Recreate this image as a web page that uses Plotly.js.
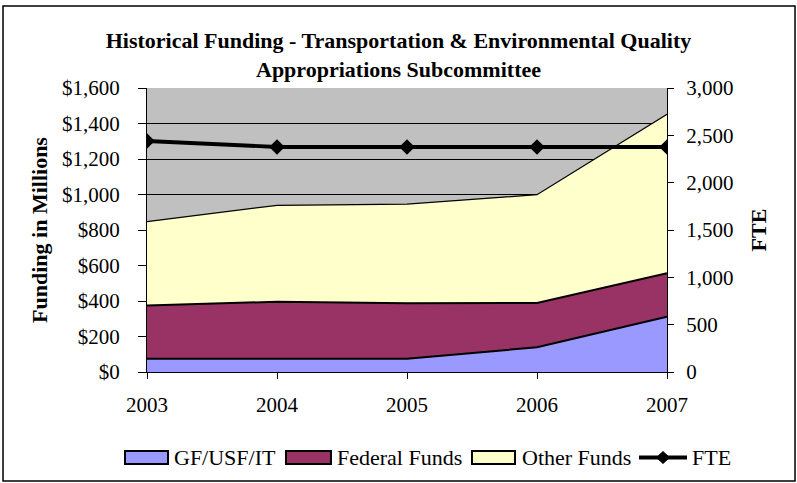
<!DOCTYPE html>
<html><head><meta charset="utf-8">
<script src="https://cdn.plot.ly/plotly-3.0.1.min.js"></script>
<style>html,body{margin:0;padding:0;background:#fff}</style>
</head><body>
<div id="chart" style="width:797px;height:483px"></div>
<script>
var years = [2003, 2004, 2005, 2006, 2007];
var gfUsfIt = [75, 75, 75, 139, 312];
var federalFunds = [299, 321, 312, 250, 244];
var otherFunds = [473, 543, 559, 610, 896];
var fte = [2440, 2377, 2377, 2377, 2377];
var seriesNames = ['GF/USF/IT', 'Federal Funds', 'Other Funds', 'FTE'];
var leftTicks = [0, 200, 400, 600, 800, 1000, 1200, 1400, 1600];
var leftTickText = ['$0', '$200', '$400', '$600', '$800', '$1,000', '$1,200', '$1,400', '$1,600'];
var rightTicks = [0, 500, 1000, 1500, 2000, 2500, 3000];
var rightTickText = ['0', '500', '1,000', '1,500', '2,000', '2,500', '3,000'];

var F = 'Liberation Serif, Times New Roman, serif';
var colors = ['#9999FF', '#993366', '#FFFFCC'];
var traces = [
  {x: years, y: gfUsfIt, name: seriesNames[0], type: 'scatter', mode: 'lines', stackgroup: 'a',
   fillcolor: colors[0], line: {color: '#000', width: 2}},
  {x: years, y: federalFunds, name: seriesNames[1], type: 'scatter', mode: 'lines', stackgroup: 'a',
   fillcolor: colors[1], line: {color: '#000', width: 2}},
  {x: years, y: otherFunds, name: seriesNames[2], type: 'scatter', mode: 'lines', stackgroup: 'a',
   fillcolor: colors[2], line: {color: '#000', width: 1.3}},
  {x: years, y: fte, name: seriesNames[3], type: 'scatter', mode: 'lines+markers', yaxis: 'y2',
   line: {color: '#000', width: 3.8}, marker: {symbol: 'diamond', size: 12, color: '#000'}}
];

// manual legend (positions in paper coordinates)
var legRects = [[-0.0423, 0.0404], [0.2673, 0.3538], [0.625, 0.7077]];
var legTextX = [0.0481, 0.3615, 0.7173, 1.0442];
var legY0 = -0.3239, legY1 = -0.2782, legYc = -0.3011;
var shapes = [{type: 'rect', xref: 'paper', yref: 'paper', x0: -0.2769, x1: 1.2462, y0: -0.384, y1: 1.289,
  line: {color: '#000', width: 1.5}, fillcolor: 'rgba(0,0,0,0)', layer: 'below'}];
var annotations = [];
for (var i = 0; i < 3; i++) {
  shapes.push({type: 'rect', xref: 'paper', yref: 'paper', x0: legRects[i][0], x1: legRects[i][1],
    y0: legY0, y1: legY1, fillcolor: colors[i], line: {color: '#000', width: 2}});
}
shapes.push({type: 'line', xref: 'paper', yref: 'paper', x0: 0.9462, x1: 1.0385, y0: legYc, y1: legYc,
  line: {color: '#000', width: 3.8}});
shapes.push({type: 'path', xref: 'paper', yref: 'paper', xsizemode: 'pixel', ysizemode: 'pixel',
  xanchor: 0.9923, yanchor: legYc, path: 'M-6.5,0 L0,6 L6.5,0 L0,-6 Z', fillcolor: '#000', line: {color: '#000', width: 1}});
for (var j = 0; j < 4; j++) {
  annotations.push({xref: 'paper', yref: 'paper', x: legTextX[j], y: legYc, xanchor: 'left', yanchor: 'middle',
    text: seriesNames[j], showarrow: false, font: {family: F, size: 22, color: '#000'}});
}

var layout = {
  width: 797, height: 483,
  margin: {l: 147, r: 130, t: 88, b: 111},
  paper_bgcolor: '#fff', plot_bgcolor: '#C0C0C0',
  font: {family: F, size: 21, color: '#000'},
  showlegend: false,
  title: {text: '<b>Historical Funding - Transportation & Environmental Quality<br>Appropriations Subcommittee</b>',
    font: {family: F, size: 22, color: '#000'}, x: 0.5, xref: 'container', xanchor: 'center',
    yref: 'container', y: 0.9006, yanchor: 'middle'},
  xaxis: {range: [2003, 2007], tickvals: years, ticktext: years.map(String), showgrid: false,
    showline: true, linecolor: '#000', linewidth: 1, ticks: 'outside', ticklen: 6, tickcolor: '#000',
    ticklabelstandoff: 8, zeroline: false, tickfont: {family: F, size: 21}},
  yaxis: {range: [0, 1600], tickvals: leftTicks, ticktext: leftTickText, showgrid: true, gridcolor: '#000',
    gridwidth: 1, showline: true, linecolor: '#000', ticks: 'outside', ticklen: 8, tickcolor: '#000',
    ticklabelstandoff: 14, zeroline: false, tickfont: {family: F, size: 21},
    title: {text: '<b>Funding in Millions</b>', font: {family: F, size: 22}, standoff: 8}},
  yaxis2: {overlaying: 'y', side: 'right', range: [0, 3000], tickvals: rightTicks, ticktext: rightTickText,
    showgrid: false, showline: true, linecolor: '#000', ticks: 'outside', ticklen: 6, tickcolor: '#000',
    ticklabelstandoff: 8, zeroline: false, tickfont: {family: F, size: 21},
    title: {text: '<b>FTE</b>', font: {family: F, size: 22}, standoff: 18}},
  shapes: shapes,
  annotations: annotations
};
Plotly.newPlot('chart', traces, layout, {displayModeBar: false, staticPlot: true});
</script>
</body></html>
